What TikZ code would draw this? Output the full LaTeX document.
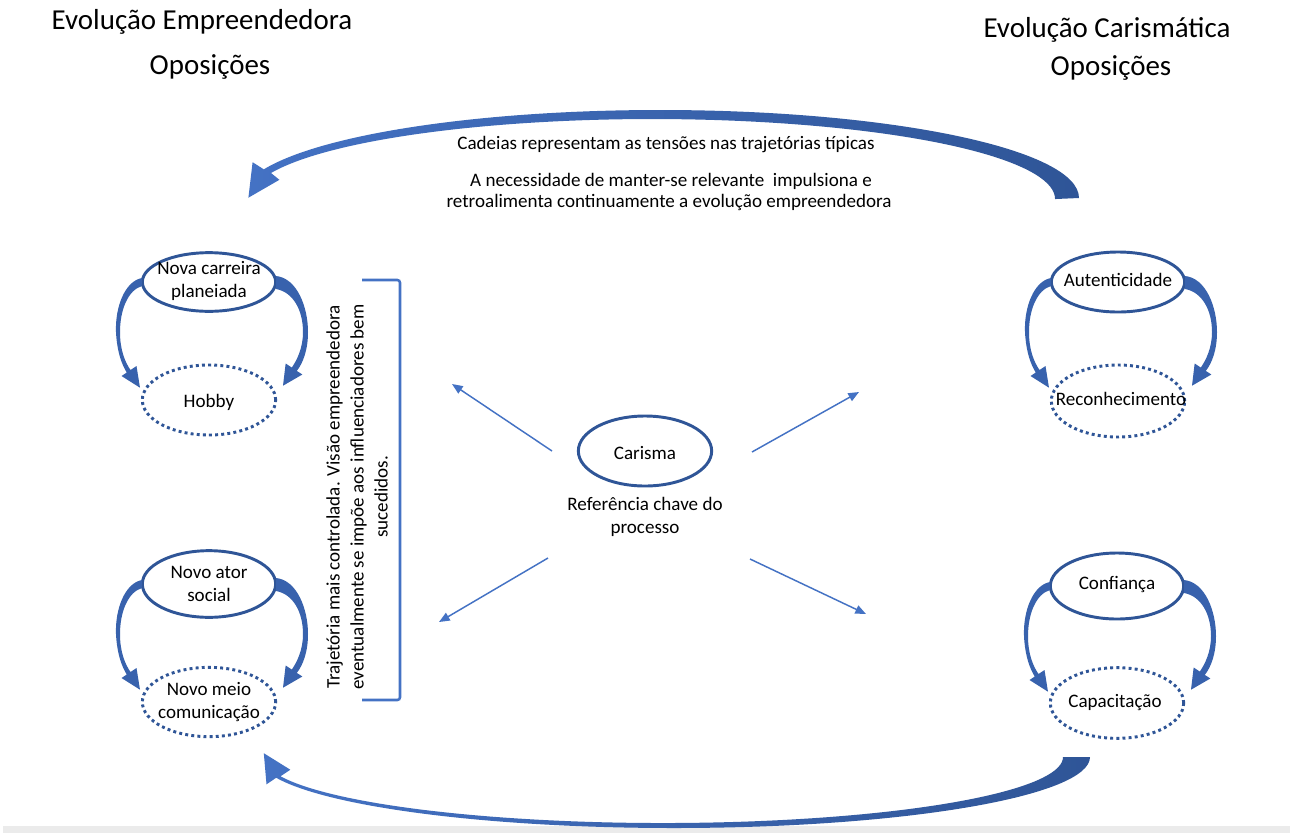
\documentclass[tikz,border=0pt]{standalone}
\usepackage{fontspec}
\setmainfont{Carlito}
\usetikzlibrary{shapes.geometric,arrows.meta,calc}
\definecolor{ringblue}{HTML}{2F5597}
\definecolor{lineblue}{HTML}{4472C4}
\definecolor{arcdark}{HTML}{2F5597}
\definecolor{arclight}{HTML}{4472C4}
\definecolor{loopblue}{HTML}{3862AD}

% curved arrows linking an upper ring to the ring below it
\tikzset{
  pics/looparrows/.style={code={
    % left arrow
    \fill[loopblue] (-67,-4) .. controls (-84,-1) and (-94,25) .. (-93,50)
      .. controls (-92,70) and (-87,83) .. (-82.25,90.5)
      -- (-87.5,94) -- (-69,105.7) -- (-72.5,84) -- (-78.5,88)
      .. controls (-84,80) and (-89,68) .. (-89,50)
      .. controls (-89,28) and (-81,8) .. (-67,4) -- cycle;
    % right arrow
    \fill[loopblue] (67,-6) .. controls (88,-4) and (99,25) .. (99,50)
      .. controls (99,68) and (94,81) .. (87.8,88.9)
      -- (93.35,92.5) -- (74,103.7) -- (76.65,81.5) -- (82.8,85.6)
      .. controls (88,78) and (94,66) .. (94,50)
      .. controls (94,28) and (84,10) .. (67,7) -- cycle;
  }}
}

\begin{document}
\begin{tikzpicture}[x=0.75pt,y=-0.75pt,
  ring/.style={ellipse, draw=ringblue, line width=2.2pt, minimum width=100pt, minimum height=45pt, inner sep=0},
  dotring/.style={ellipse, draw=ringblue, line width=2.2pt, dash pattern=on 2.2pt off 2.4pt, minimum width=100pt, minimum height=52pt, inner sep=0},
  lbl/.style={font=\fontsize{14.3}{17.2}\selectfont, align=center, inner sep=0},
  ttl/.style={font=\fontsize{21.7}{26}\selectfont, inner sep=0, anchor=base},
  ray/.style={draw=lineblue, line width=1.1pt, -{Triangle[length=8pt,width=6.5pt]}},
]
\useasboundingbox (0,0) rectangle (1290,833);
\fill[white] (0,0) rectangle (1290,833);
\fill[gray!16] (3,826) rectangle (1290,833);

% titles
\node[ttl] (titleL) at (202,29) {Evolução Empreendedora};
\node[ttl] (subL) at (210,74) {Oposições};
\node[ttl] (titleR) at (1107,37) {Evolução Carismática};
\node[ttl] (subR) at (1111,75) {Oposições};

% upper return arrow
\shade[left color=arclight, right color=arcdark]
  (1079,198) arc[start angle=0, end angle=-161, x radius=419, y radius=88]
  -- (252.6,162.2) -- (248.4,197.7) -- (279.4,179.8) -- (271,173)
  arc[start angle=-161, end angle=0, x radius=403, y radius=80] -- cycle;

% lower return arrow
\shade[left color=arclight, right color=arcdark]
  (1090,757) arc[start angle=0, end angle=163, x radius=416, y radius=71]
  -- (266.5,784.3) -- (263.8,753.2) -- (290.3,769.7) -- (280.5,776.3)
  arc[start angle=163, end angle=0, x radius=400, y radius=66] -- cycle;

% captions of the upper arrow
\node[lbl, anchor=base] (cap1) at (666,149) {Cadeias representam as tensões nas trajetórias típicas};
\node[lbl, anchor=base] (cap2) at (671,186) {A necessidade de manter-se relevante\ \ impulsiona e};
\node[lbl, anchor=base] (cap3) at (669,207) {retroalimenta continuamente a evolução empreendedora};

% left column
\node[ring, minimum height=44pt] (nc) at (209,282) {};
\node[dotring, minimum height=52.5pt] (hb) at (209,400) {};
\node[ring, minimum height=50pt] (na) at (209,584) {};
\node[dotring, minimum height=52pt] (nm) at (209,702) {};
\node[lbl] (nct) at (209,281) {Nova carreira\\planeiada};
\node[lbl] (hbt) at (209,402) {Hobby};
\node[lbl] (nat) at (209,584) {Novo ator\\social};
\node[lbl] (nmt) at (209,702) {Novo meio\\comunicação};
\pic at (nc.center) {looparrows};
\pic at (na.center) {looparrows};

% right column
\node[ring, minimum height=45pt] (au) at (1118,282) {};
\node[dotring, minimum height=54pt] (re) at (1118,401) {};
\node[ring, minimum height=49.5pt] (co) at (1117,586) {};
\node[dotring, minimum height=53pt] (ca) at (1117,703) {};
\node[lbl] (aut) at (1118,280) {Autenticidade};
\node[lbl] (ret) at (1121,399) {Reconhecimento};
\node[lbl] (cot) at (1117,584) {Confiança};
\node[lbl] (cat) at (1115,703) {Capacitação};
\pic at (au.center) {looparrows};
\pic at (co.center) {looparrows};

% centre
\node[ring, minimum height=52.5pt] (cr) at (645,451) {};
\node[lbl] (crt) at (645,453) {Carisma};
\node[lbl] (ref) at (645,517) {Referência chave do\\processo};

\coordinate (ulS) at (552,451); \coordinate (ulE) at (452,384);
\coordinate (urS) at (752,452); \coordinate (urE) at (859,392);
\coordinate (llS) at (548,558); \coordinate (llE) at (439,622);
\coordinate (lrS) at (750,559); \coordinate (lrE) at (866,614);
\draw[ray] (ulS) -- (ulE);
\draw[ray] (urS) -- (urE);
\draw[ray] (llS) -- (llE);
\draw[ray] (lrS) -- (lrE);

% bracket and vertical note
\coordinate (brT) at (362,280); \coordinate (brB) at (362,700);
\draw[lineblue, line width=1.9pt, rounded corners=2pt] (brT) -- (400,280) -- (400,700) -- (brB);
\node[lbl, font=\fontsize{14.3}{18}\selectfont, rotate=90] (note) at (357,497)
  {Trajetória mais controlada. Visão empreendedora\\eventualmente se impõe aos influenciadores bem\\sucedidos.};
\end{tikzpicture}
\end{document}
